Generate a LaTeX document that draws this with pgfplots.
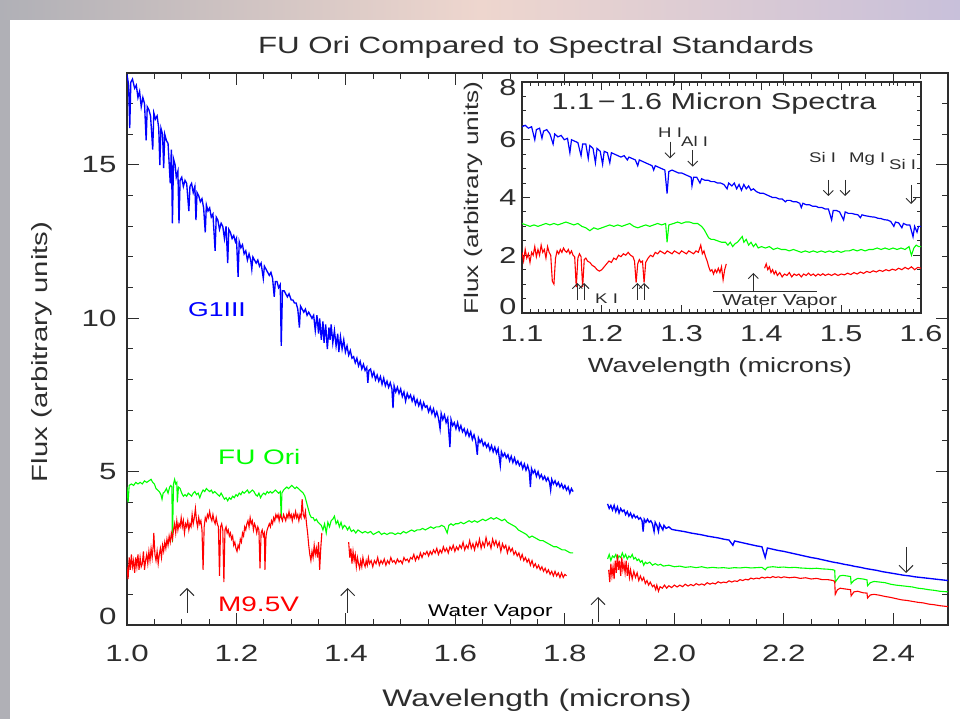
\documentclass[border=0pt]{standalone}
\usepackage{pgfplots}
\pgfplotsset{compat=1.18}
\usepackage{fontspec}
\setmainfont{Liberation Sans}[FakeStretch=1.33]
\usetikzlibrary{arrows.meta}
\definecolor{txt}{RGB}{45,45,45}
\definecolor{bgl}{RGB}{176,176,182}
\definecolor{bgm}{RGB}{212,190,212}
\definecolor{bgp}{RGB}{238,214,206}
\definecolor{bgr}{RGB}{200,192,218}
\definecolor{cb}{RGB}{0,0,255}
\definecolor{cg}{RGB}{0,255,0}
\definecolor{cr}{RGB}{255,0,0}
\tikzset{lab/.style={inner sep=0pt, text=txt}}
\begin{document}
\begin{tikzpicture}[x=1pt,y=1pt]
\useasboundingbox (0,0) rectangle (960,719);
\fill[bgl] (0,0) rectangle (960,719);
\shade[left color=bgl, right color=bgr, middle color=bgp] (0,699) rectangle (960,719);
\fill[white] (10,0) rectangle (960,699);

% ---------------- main axis ----------------
\begin{axis}[
  at={(127pt,94pt)}, anchor=south west, scale only axis,
  width=821pt, height=552pt,
  xmin=1.0, xmax=2.5, ymin=0, ymax=18,
  axis line style={txt, line width=1.2pt},
  tick style={txt, line width=1.0pt},
  major tick length=12pt, minor tick length=6pt,
  tick align=inside,
  xtick={1.0,1.2,1.4,1.6,1.8,2.0,2.2,2.4},
  xticklabels={1.0,1.2,1.4,1.6,1.8,2.0,2.2,2.4},
  minor xtick={1.05,1.1,1.15,1.25,1.3,1.35,1.45,1.5,1.55,1.65,1.7,1.75,1.85,1.9,1.95,2.05,2.1,2.15,2.25,2.3,2.35,2.45},
  ytick={0,5,10,15}, yticklabels={\raisebox{0pt}[0pt][0pt]{0},5,10,15},
  minor ytick={1,2,3,4,6,7,8,9,11,12,13,14,16,17},
  /pgf/number format/assume math mode=true,
  ticklabel style={font=\fontsize{23.5}{24}\selectfont, text=txt},
  xticklabel style={yshift=-17pt},
  yticklabel style={xshift=-7pt},
]
% G1III blue, segment 1
\addplot[cb, line width=1.35pt] coordinates {
(1.000,17.95)(1.003,17.6)(1.005,16.2)(1.007,17.7)(1.010,17.8)(1.014,17.5)(1.017,17.6)(1.020,17.2)(1.023,17.4)(1.026,16.9)
(1.029,17.2)(1.032,17.0)(1.035,15.8)(1.037,16.9)(1.040,16.8)(1.043,16.6)(1.047,15.5)(1.049,16.7)(1.052,16.5)(1.055,16.6)
(1.058,16.2)(1.060,15.0)(1.062,16.2)(1.065,16.0)(1.067,14.9)(1.069,16.0)(1.072,15.8)(1.075,15.7)(1.079,14.4)(1.081,15.5)
(1.083,13.1)(1.085,15.2)(1.088,15.0)(1.090,14.6)(1.093,14.8)(1.095,13.1)(1.097,14.5)(1.100,14.6)(1.103,14.3)(1.106,14.5)
(1.109,14.4)(1.113,13.5)(1.115,14.3)(1.118,14.4)(1.121,14.1)(1.124,14.3)(1.126,13.2)(1.128,14.1)(1.131,14.0)(1.134,13.8)
(1.137,13.9)(1.140,13.6)(1.143,12.8)(1.145,13.7)(1.148,13.5)(1.151,13.6)(1.154,13.3)(1.157,13.4)(1.161,12.2)(1.163,13.3)
(1.166,13.2)(1.169,12.9)(1.172,13.1)(1.175,13.0)(1.178,12.6)(1.181,13.0)(1.184,11.8)(1.186,12.9)(1.189,12.8)(1.192,12.6)
(1.195,12.7)(1.198,12.5)(1.200,12.6)(1.203,11.35)(1.205,12.5)(1.208,12.3)(1.211,12.4)(1.214,12.1)(1.217,12.2)(1.220,11.9)
(1.223,12.1)(1.226,11.9)(1.228,11.6)(1.230,12.0)(1.233,11.9)(1.236,11.8)(1.239,11.9)(1.242,11.7)(1.245,11.8)(1.249,11.3)
(1.251,11.7)(1.254,11.6)(1.257,11.5)(1.260,11.4)(1.263,11.5)(1.266,11.3)(1.269,10.7)(1.271,11.2)(1.274,11.2)(1.277,11.0)
(1.280,11.1)(1.2818,9.1)(1.284,10.9)(1.287,10.9)(1.290,10.8)(1.293,10.7)(1.296,10.8)(1.300,10.6)(1.303,10.6)(1.306,10.5)
(1.309,10.5)(1.312,10.3)(1.315,9.7)(1.317,10.4)(1.320,10.3)(1.323,10.2)(1.326,10.3)(1.329,10.1)(1.332,10.2)(1.335,10.1)
(1.338,10.0)(1.341,10.1)(1.344,9.6)(1.347,10.1)(1.350,9.5)(1.352,10.0)(1.355,9.3)(1.358,9.9)(1.360,9.2)(1.363,9.8)
(1.366,9.0)(1.369,9.7)(1.371,9.3)(1.373,9.8)(1.376,9.2)(1.379,9.6)(1.382,9.1)(1.385,9.5)(1.387,8.9)(1.390,9.4)
(1.393,9.0)(1.396,9.3)(1.399,8.9)(1.402,9.1)(1.405,8.8)(1.408,8.95)(1.411,8.7)
(1.414,8.75)(1.417,8.55)(1.420,8.7)(1.423,8.45)(1.426,8.6)(1.429,8.35)(1.432,8.5)(1.435,8.3)(1.438,8.4)(1.440,7.9)
(1.442,8.3)(1.445,8.35)(1.448,8.1)(1.451,8.25)(1.454,8.0)(1.457,8.15)(1.460,7.95)(1.463,8.1)(1.466,7.85)(1.469,8.05)
(1.472,7.8)(1.475,7.95)(1.478,7.75)(1.481,7.9)(1.484,7.7)(1.486,7.07)(1.488,7.8)(1.491,7.6)(1.494,7.75)(1.497,7.55)
(1.500,7.7)(1.503,7.45)(1.506,7.6)(1.509,7.3)(1.512,7.55)(1.515,7.4)(1.518,7.5)(1.521,7.3)(1.524,7.45)(1.527,7.2)
(1.530,7.35)(1.533,7.15)(1.536,7.3)(1.539,7.05)(1.542,7.25)(1.545,7.1)(1.548,7.15)(1.551,6.95)(1.554,7.1)(1.557,6.9)
(1.560,7.05)(1.563,6.8)(1.566,6.95)(1.569,6.75)(1.572,6.4)(1.574,6.9)(1.577,6.7)(1.580,6.85)(1.583,6.6)(1.586,6.75)
(1.590,5.8)(1.592,6.7)(1.595,6.5)(1.598,6.6)(1.601,6.4)(1.604,6.6)(1.607,6.35)(1.610,6.5)(1.613,6.3)(1.616,6.4)
(1.619,6.2)(1.622,6.35)(1.625,6.15)(1.628,6.3)(1.631,6.05)(1.634,6.2)(1.637,6.0)(1.640,5.55)(1.642,6.1)(1.645,5.95)
(1.648,6.05)(1.651,5.85)(1.654,5.95)(1.657,5.8)(1.660,5.9)(1.663,5.7)(1.666,5.85)(1.669,5.65)(1.672,5.8)(1.675,5.6)
(1.678,5.75)(1.682,5.2)(1.684,5.65)(1.687,5.5)(1.690,5.6)(1.693,5.45)(1.696,5.55)(1.699,5.35)(1.702,5.5)(1.705,5.3)
(1.708,5.45)(1.711,5.25)(1.714,5.35)(1.717,5.2)(1.720,5.3)(1.723,5.1)(1.726,5.25)(1.729,5.05)(1.732,5.2)(1.735,5.0)
(1.737,4.5)(1.739,5.1)(1.742,4.95)(1.745,5.05)(1.748,4.85)(1.751,5.0)(1.754,4.8)(1.757,4.9)(1.760,4.75)(1.763,4.85)
(1.766,4.7)(1.769,4.8)(1.772,4.65)(1.774,4.4)(1.776,4.75)(1.779,4.6)(1.782,4.7)(1.785,4.55)(1.788,4.65)(1.791,4.5)
(1.794,4.6)(1.797,4.45)(1.800,4.55)(1.803,4.4)(1.806,4.5)(1.809,4.3)(1.812,4.45)(1.815,4.35)};
% G1III blue, segment 2
\addplot[cb, line width=1.35pt] coordinates {
(1.878,3.95)(1.881,3.8)(1.884,3.9)(1.887,3.75)(1.890,3.9)(1.893,3.7)(1.896,3.85)(1.899,3.65)(1.902,3.8)(1.905,3.7)
(1.908,3.75)(1.911,3.6)(1.914,3.7)(1.917,3.55)(1.920,3.65)(1.923,3.5)(1.926,3.6)(1.929,3.5)(1.932,3.55)(1.935,3.45)
(1.938,3.5)(1.941,3.4)(1.943,3.05)(1.945,3.45)(1.948,3.35)(1.951,3.45)(1.954,3.35)(1.957,3.4)(1.960,3.3)(1.963,3.05)
(1.965,3.35)(1.968,3.25)(1.971,3.05)(1.973,3.3)(1.976,3.2)(1.979,3.1)(1.981,3.25)(1.985,3.15)(1.990,3.2)(1.995,3.12)
(2.000,3.1)(2.010,3.07)(2.020,3.04)(2.030,3.0)(2.040,2.97)(2.050,2.94)(2.060,2.9)(2.070,2.87)(2.080,2.84)(2.090,2.8)
(2.100,2.77)(2.107,2.6)(2.110,2.74)(2.120,2.7)(2.130,2.66)(2.140,2.62)(2.150,2.58)(2.160,2.55)(2.166,2.2)(2.170,2.51)
(2.180,2.47)(2.190,2.43)(2.200,2.4)(2.210,2.36)(2.220,2.32)(2.230,2.28)(2.240,2.24)(2.250,2.2)(2.260,2.17)(2.270,2.13)
(2.280,2.09)(2.290,2.05)(2.300,2.02)(2.310,1.98)(2.320,1.95)(2.330,1.91)(2.340,1.88)(2.350,1.84)(2.360,1.81)(2.370,1.78)
(2.380,1.74)(2.390,1.71)(2.400,1.68)(2.410,1.65)(2.420,1.62)(2.430,1.6)(2.440,1.57)(2.450,1.55)(2.460,1.53)(2.470,1.51)
(2.480,1.49)(2.490,1.47)(2.500,1.45)};
% FU Ori green, segment 1
\addplot[cg, line width=1.1pt] coordinates {
(1.000,4.5)(1.002,4.0)(1.004,4.55)(1.008,4.6)(1.012,4.55)(1.016,4.65)(1.020,4.6)(1.024,4.65)(1.028,4.6)(1.032,4.7)
(1.036,4.65)(1.040,4.7)(1.044,4.75)(1.047,4.65)(1.050,4.6)(1.053,4.45)(1.056,4.4)(1.059,4.35)(1.062,4.25)(1.064,4.1)
(1.066,4.3)(1.069,4.35)(1.072,4.45)(1.075,4.3)(1.078,4.5)(1.080,4.55)(1.082,4.5)(1.083,2.7)(1.085,4.6)(1.087,4.75)
(1.089,4.6)(1.091,4.65)(1.092,4.0)(1.094,4.5)(1.097,4.45)(1.100,4.3)(1.103,4.2)(1.106,4.25)(1.109,4.2)(1.112,4.3)
(1.115,4.25)(1.118,4.2)(1.121,4.3)(1.124,4.35)(1.127,4.25)(1.130,4.3)(1.133,4.15)(1.136,4.3)(1.139,4.4)(1.142,4.35)
(1.145,4.45)(1.148,4.4)(1.151,4.35)(1.154,4.4)(1.157,4.3)(1.160,4.35)(1.163,4.3)(1.166,4.25)(1.169,4.2)(1.172,4.3)
(1.175,4.2)(1.178,4.1)(1.181,4.15)(1.184,4.05)(1.187,4.15)(1.190,4.1)(1.193,4.2)(1.196,4.15)(1.199,4.25)(1.202,4.2)
(1.205,4.3)(1.208,4.25)(1.211,4.35)(1.214,4.3)(1.217,4.35)(1.220,4.4)(1.223,4.3)(1.226,4.35)(1.229,4.4)(1.232,4.35)
(1.235,4.25)(1.238,4.2)(1.241,4.3)(1.244,4.15)(1.247,4.25)(1.250,4.3)(1.253,4.25)(1.256,4.35)(1.259,4.3)(1.262,4.35)
(1.265,4.3)(1.268,4.35)(1.271,4.4)(1.274,4.35)(1.277,4.3)(1.280,4.35)(1.2818,3.5)(1.283,4.3)(1.286,4.4)(1.289,4.45)
(1.292,4.5)(1.295,4.45)(1.298,4.5)(1.301,4.55)(1.304,4.5)(1.307,4.45)(1.310,4.5)(1.313,4.45)(1.316,4.4)(1.319,4.35)
(1.322,4.3)(1.325,4.2)(1.328,4.0)(1.331,3.8)(1.334,3.6)(1.337,3.5)(1.340,3.5)(1.343,3.4)(1.346,3.45)(1.349,3.35)
(1.352,3.3)(1.355,3.25)(1.358,3.1)(1.361,3.3)(1.364,3.0)(1.367,3.35)(1.370,3.2)(1.373,3.4)(1.376,3.45)(1.379,3.55)
(1.382,3.3)(1.385,3.4)(1.388,3.2)(1.391,3.35)(1.394,3.15)(1.397,3.25)(1.400,3.2)(1.403,3.1)(1.406,3.2)(1.410,3.05)
(1.414,3.1)(1.418,3.0)(1.422,3.1)(1.426,3.05)(1.430,3.0)(1.435,3.05)(1.440,3.0)(1.445,3.05)(1.450,2.95)(1.455,3.0)
(1.460,3.05)(1.465,2.95)(1.470,3.0)(1.475,2.95)(1.480,3.0)(1.485,3.0)(1.490,2.95)(1.495,3.0)(1.500,2.97)(1.505,3.05)
(1.510,3.0)(1.515,3.05)(1.520,3.1)(1.525,3.05)(1.530,3.1)(1.535,3.1)(1.540,3.15)(1.545,3.1)(1.550,3.15)(1.555,3.2)
(1.560,3.15)(1.565,3.2)(1.570,3.2)(1.575,3.25)(1.580,3.2)(1.585,3.0)(1.588,3.25)(1.592,3.3)(1.596,3.25)(1.600,3.3)
(1.605,3.3)(1.610,3.35)(1.615,3.3)(1.620,3.35)(1.625,3.4)(1.630,3.35)(1.635,3.4)(1.640,3.35)(1.645,3.4)(1.650,3.45)
(1.655,3.4)(1.660,3.45)(1.665,3.5)(1.670,3.45)(1.675,3.5)(1.680,3.45)(1.685,3.4)(1.690,3.45)(1.695,3.35)(1.700,3.3)
(1.705,3.25)(1.710,3.2)(1.715,3.1)(1.720,3.05)(1.725,3.0)(1.730,2.95)(1.735,2.85)(1.740,2.9)(1.745,2.85)(1.750,2.8)
(1.755,2.75)(1.760,2.75)(1.765,2.7)(1.770,2.65)(1.775,2.6)(1.780,2.55)(1.785,2.55)(1.790,2.5)(1.795,2.45)(1.800,2.45)
(1.805,2.4)(1.810,2.35)(1.815,2.35)};
% FU Ori green, segment 2
\addplot[cg, line width=1.1pt] coordinates {
(1.878,2.15)(1.881,2.3)(1.884,2.1)(1.887,2.25)(1.890,2.2)(1.893,2.3)(1.896,2.15)(1.899,2.25)(1.902,2.2)(1.905,2.35)
(1.908,2.2)(1.911,2.3)(1.914,2.15)(1.917,2.25)(1.920,2.2)(1.923,2.3)(1.926,2.15)(1.929,2.2)(1.932,2.1)(1.935,2.15)
(1.938,2.05)(1.941,2.1)(1.944,1.95)(1.947,2.05)(1.950,2.0)(1.955,2.05)(1.960,1.95)(1.965,2.0)(1.970,1.95)(1.975,1.98)
(1.980,1.92)(1.990,1.95)(2.000,1.9)(2.010,1.92)(2.020,1.88)(2.030,1.9)(2.040,1.87)(2.050,1.9)(2.060,1.86)(2.070,1.88)
(2.080,1.86)(2.090,1.87)(2.100,1.85)(2.110,1.87)(2.120,1.86)(2.130,1.88)(2.140,1.86)(2.150,1.87)(2.160,1.88)(2.166,1.8)
(2.170,1.88)(2.180,1.9)(2.190,1.88)(2.200,1.89)(2.210,1.87)(2.220,1.88)(2.230,1.86)(2.240,1.85)(2.250,1.84)(2.260,1.85)
(2.270,1.83)(2.280,1.82)(2.290,1.8)(2.293,1.78)(2.294,1.4)(2.298,1.5)(2.302,1.6)(2.308,1.62)(2.315,1.6)(2.322,1.58)
(2.323,1.35)(2.328,1.45)(2.335,1.52)(2.345,1.5)(2.352,1.47)(2.353,1.28)(2.358,1.38)(2.365,1.42)(2.375,1.4)(2.385,1.38)
(2.395,1.33)(2.405,1.3)(2.415,1.28)(2.425,1.26)(2.435,1.24)(2.445,1.2)(2.455,1.18)(2.465,1.15)(2.475,1.13)(2.485,1.1)
(2.500,1.08)};
% M9.5V red, segment 1
\addplot[cr, line width=1.1pt] coordinates {
(1.000,1.9)(1.002,1.5)(1.004,2.2)(1.006,1.8)(1.008,2.3)(1.010,1.9)(1.012,2.1)(1.014,1.7)(1.016,2.2)(1.018,1.9)
(1.020,2.3)(1.022,1.8)(1.024,2.2)(1.026,1.9)(1.028,2.0)(1.030,2.4)(1.032,1.8)(1.034,2.1)(1.036,2.3)(1.038,2.0)
(1.040,2.4)(1.042,2.1)(1.044,2.5)(1.046,2.2)(1.048,2.6)(1.049,3.0)(1.051,2.3)(1.053,2.1)(1.055,2.4)(1.057,2.0)
(1.059,2.3)(1.061,2.5)(1.063,2.2)(1.065,2.6)(1.067,2.4)(1.069,2.7)(1.071,2.5)(1.073,2.8)(1.075,2.6)(1.077,2.9)
(1.079,2.7)(1.081,3.0)(1.083,2.8)(1.085,3.1)(1.087,3.3)(1.089,3.0)(1.091,3.4)(1.093,3.1)(1.095,3.3)(1.097,3.2)
(1.099,3.5)(1.101,3.2)(1.103,3.4)(1.105,3.0)(1.107,3.3)(1.109,3.2)(1.111,3.4)(1.113,3.1)(1.115,3.3)(1.117,3.2)
(1.119,3.6)(1.121,3.3)(1.123,3.5)(1.125,3.8)(1.127,3.4)(1.129,3.2)(1.131,3.5)(1.133,3.3)(1.135,3.4)(1.137,3.1)
(1.139,1.8)(1.141,3.2)(1.143,3.5)(1.145,3.4)(1.147,3.6)(1.149,3.5)(1.151,3.7)(1.153,3.5)(1.155,3.4)(1.157,3.6)
(1.159,3.4)(1.161,3.3)(1.163,3.5)(1.165,3.3)(1.167,3.2)(1.169,1.6)(1.171,3.2)(1.173,3.3)(1.175,3.1)(1.177,1.4)
(1.179,3.1)(1.181,3.2)(1.183,3.0)(1.185,3.1)(1.187,2.9)(1.189,3.0)(1.191,2.8)(1.193,2.9)(1.195,2.6)(1.197,2.7)
(1.199,2.5)(1.201,2.4)(1.203,2.6)(1.205,2.5)(1.207,2.8)(1.209,2.7)(1.211,3.0)(1.213,2.9)(1.215,3.2)(1.217,3.1)
(1.219,3.3)(1.221,3.4)(1.223,3.2)(1.225,3.5)(1.227,3.3)(1.229,3.4)(1.231,3.1)(1.233,3.3)(1.235,3.2)(1.237,3.0)
(1.239,3.2)(1.241,3.1)(1.243,1.85)(1.245,3.0)(1.247,3.1)(1.249,2.9)(1.251,3.0)(1.252,1.8)(1.254,2.9)(1.256,3.1)
(1.258,3.2)(1.260,3.3)(1.262,3.2)(1.264,3.4)(1.266,3.3)(1.268,3.5)(1.270,3.4)(1.272,3.6)(1.274,3.5)(1.276,3.6)
(1.278,3.4)(1.280,3.6)(1.282,3.5)(1.284,3.4)(1.286,3.6)(1.288,3.5)(1.290,3.4)(1.292,3.6)(1.294,3.5)(1.296,3.7)
(1.298,3.5)(1.300,3.6)(1.302,3.4)(1.304,3.6)(1.306,3.5)(1.308,3.7)(1.310,3.5)(1.312,3.6)(1.314,3.4)(1.316,3.6)
(1.318,3.5)(1.320,4.1)(1.322,3.6)(1.324,3.5)(1.326,3.7)(1.328,3.3)(1.330,3.0)(1.332,2.6)(1.334,2.3)(1.336,2.1)
(1.338,2.4)(1.340,2.2)(1.342,2.6)(1.344,2.3)(1.346,2.5)(1.348,2.2)(1.350,2.7)(1.352,1.8)(1.354,2.5)(1.356,3.0)};
% M9.5V red, segment 1b
\addplot[cr, line width=1.1pt] coordinates {
(1.405,2.7)(1.407,2.2)(1.409,2.5)(1.411,2.0)(1.413,2.4)(1.415,2.1)(1.417,2.3)(1.419,1.9)(1.421,2.2)(1.423,2.0)
(1.425,1.85)(1.427,2.1)(1.429,1.9)(1.431,2.2)(1.433,2.0)(1.435,1.9)(1.437,2.1)(1.439,1.95)(1.441,2.2)(1.443,2.0)
(1.446,2.1)(1.449,1.9)(1.452,2.1)(1.455,2.0)(1.458,2.2)(1.461,1.95)(1.464,2.1)(1.467,2.0)(1.470,2.15)(1.473,1.95)
(1.476,2.1)(1.479,2.0)(1.482,2.2)(1.485,2.05)(1.488,2.1)(1.491,2.0)(1.494,2.15)(1.497,2.05)(1.500,2.1)(1.503,2.0)
(1.506,2.2)(1.509,2.1)(1.512,2.15)(1.515,2.05)(1.518,2.2)(1.521,2.15)(1.524,2.3)(1.527,2.1)(1.530,2.25)(1.533,2.15)
(1.536,2.35)(1.539,2.2)(1.542,2.35)(1.545,2.3)(1.548,2.4)(1.551,2.25)(1.554,2.4)(1.557,2.3)(1.560,2.45)(1.563,2.35)
(1.566,2.5)(1.569,2.3)(1.572,2.45)(1.575,2.35)(1.578,2.55)(1.581,2.4)(1.584,2.5)(1.587,2.35)(1.590,2.55)(1.593,2.45)
(1.596,2.6)(1.599,2.4)(1.602,2.55)(1.605,2.45)(1.608,2.6)(1.611,2.5)(1.614,2.7)(1.617,2.45)(1.620,2.6)(1.623,2.5)
(1.626,2.75)(1.629,2.5)(1.632,2.65)(1.635,2.45)(1.638,2.7)(1.641,2.55)(1.644,2.8)(1.647,2.5)(1.650,2.7)(1.653,2.55)
(1.656,2.85)(1.659,2.6)(1.662,2.7)(1.665,2.5)(1.668,2.8)(1.671,2.6)(1.674,2.75)(1.677,2.55)(1.680,2.7)(1.683,2.4)
(1.686,2.65)(1.689,2.5)(1.692,2.6)(1.695,2.35)(1.698,2.55)(1.701,2.4)(1.704,2.5)(1.707,2.3)(1.710,2.4)(1.713,2.25)
(1.716,2.35)(1.719,2.15)(1.722,2.3)(1.725,2.1)(1.728,2.2)(1.731,2.05)(1.734,2.15)(1.737,1.95)(1.740,2.1)(1.743,1.9)
(1.746,2.0)(1.749,1.85)(1.752,1.95)(1.755,1.8)(1.758,1.9)(1.761,1.75)(1.764,1.85)(1.767,1.7)(1.770,1.8)(1.773,1.65)
(1.776,1.75)(1.779,1.6)(1.782,1.75)(1.785,1.6)(1.788,1.7)(1.791,1.55)(1.794,1.7)(1.797,1.55)(1.800,1.65)(1.803,1.6)};
% M9.5V red, segment 2
\addplot[cr, line width=1.1pt] coordinates {
(1.880,1.8)(1.882,1.4)(1.884,2.0)(1.886,1.6)(1.888,1.9)(1.890,1.5)(1.892,2.1)(1.894,1.7)(1.896,2.3)(1.898,1.8)
(1.900,2.1)(1.902,1.6)(1.904,2.2)(1.906,1.8)(1.908,2.0)(1.910,1.7)(1.912,2.1)(1.914,1.6)(1.916,1.9)(1.918,1.55)
(1.920,1.8)(1.923,1.5)(1.926,1.75)(1.929,1.55)(1.932,1.7)(1.935,1.45)(1.938,1.6)(1.941,1.45)(1.944,1.55)(1.947,1.35)
(1.950,1.45)(1.953,1.3)(1.956,1.4)(1.960,1.25)(1.963,1.3)(1.966,1.15)(1.968,1.3)(1.971,1.1)(1.974,1.25)(1.978,1.2)
(1.982,1.3)(1.986,1.2)(1.990,1.28)(1.995,1.22)(2.000,1.3)(2.005,1.24)(2.010,1.3)(2.015,1.25)(2.020,1.33)(2.025,1.27)
(2.030,1.32)(2.035,1.28)(2.040,1.35)(2.045,1.3)(2.050,1.34)(2.055,1.3)(2.060,1.38)(2.065,1.33)(2.070,1.37)(2.075,1.34)
(2.080,1.41)(2.085,1.37)(2.090,1.4)(2.095,1.38)(2.100,1.44)(2.105,1.4)(2.110,1.44)(2.115,1.42)(2.120,1.48)(2.125,1.45)
(2.130,1.49)(2.135,1.47)(2.140,1.53)(2.145,1.5)(2.150,1.53)(2.155,1.51)(2.160,1.56)(2.165,1.53)(2.170,1.56)(2.175,1.54)
(2.180,1.58)(2.185,1.55)(2.190,1.57)(2.195,1.54)(2.200,1.57)(2.210,1.54)(2.220,1.56)(2.230,1.52)(2.240,1.54)(2.250,1.5)
(2.260,1.52)(2.270,1.48)(2.280,1.48)(2.290,1.45)(2.293,1.42)(2.294,1.0)(2.298,1.15)(2.303,1.2)(2.310,1.18)(2.318,1.16)
(2.322,1.15)(2.323,0.95)(2.328,1.08)(2.335,1.1)(2.345,1.05)(2.352,1.04)(2.353,0.88)(2.358,0.98)(2.365,1.0)(2.375,0.97)
(2.385,0.93)(2.395,0.9)(2.405,0.86)(2.415,0.82)(2.425,0.8)(2.435,0.77)(2.445,0.74)(2.455,0.72)(2.465,0.68)(2.475,0.66)
(2.485,0.63)(2.500,0.6)};
\end{axis}

% ---------------- inset axis ----------------
\begin{axis}[
  at={(522pt,406pt)}, anchor=south west, scale only axis,
  width=399pt, height=231pt,
  xmin=1.1, xmax=1.6, ymin=0, ymax=8,
  axis line style={txt, line width=1.1pt},
  tick style={txt, line width=0.9pt},
  major tick length=8pt, minor tick length=4pt,
  tick align=inside,
  xtick={1.1,1.2,1.3,1.4,1.5,1.6},
  xticklabels={1.1,1.2,1.3,1.4,1.5,1.6},
  minor x tick num=9,
  ytick={0,2,4,6,8}, yticklabels={\raisebox{-2pt}[0pt][0pt]{0},2,4,6,\raisebox{-14pt}[0pt][0pt]{8}},
  minor y tick num=3,
  /pgf/number format/assume math mode=true,
  ticklabel style={font=\fontsize{23}{24}\selectfont, text=txt},
  xticklabel style={yshift=-9pt},
  yticklabel style={xshift=-2pt},
]
\addplot[cb, line width=1.2pt] coordinates {
(1.100,6.45)(1.104,6.5)(1.108,6.4)(1.112,6.45)(1.116,6.0)(1.118,6.35)(1.122,6.4)(1.125,6.05)(1.127,6.3)(1.131,6.35)
(1.135,6.2)(1.139,5.85)(1.141,6.2)(1.145,6.1)(1.149,6.15)(1.153,6.0)(1.157,6.05)(1.160,5.55)(1.162,6.0)(1.166,5.95)
(1.170,5.9)(1.174,5.45)(1.176,5.85)(1.180,5.85)(1.183,5.35)(1.185,5.8)(1.189,5.7)(1.192,5.2)(1.194,5.7)(1.198,5.6)
(1.201,5.15)(1.203,5.6)(1.207,5.55)(1.210,5.2)(1.212,5.55)(1.216,5.5)(1.220,5.45)(1.224,5.4)(1.228,5.45)(1.232,5.3)
(1.234,5.4)(1.238,5.35)(1.242,5.3)(1.245,5.1)(1.247,5.3)(1.251,5.25)(1.255,5.2)(1.259,5.15)(1.263,5.1)(1.265,4.95)
(1.267,5.1)(1.271,5.05)(1.275,5.0)(1.279,4.95)(1.2818,4.14)(1.284,4.9)(1.288,4.95)(1.292,4.9)(1.296,4.85)(1.300,4.85)
(1.304,4.8)(1.308,4.75)(1.312,4.7)(1.313,4.4)(1.315,4.7)(1.319,4.7)(1.323,4.5)(1.325,4.65)(1.329,4.6)(1.333,4.6)
(1.337,4.55)(1.341,4.55)(1.345,4.5)(1.349,4.5)(1.353,4.45)(1.357,4.3)(1.359,4.5)(1.363,4.4)(1.366,4.5)(1.369,4.3)
(1.372,4.45)(1.375,4.25)(1.378,4.45)(1.381,4.3)(1.384,4.4)(1.387,4.25)(1.390,4.3)(1.394,4.2)(1.398,4.15)(1.402,4.15)
(1.406,4.1)(1.410,4.05)(1.414,4.0)(1.418,4.0)(1.422,3.95)(1.426,3.95)(1.430,3.85)(1.432,3.9)(1.436,3.9)(1.440,3.85)
(1.444,3.85)(1.448,3.8)(1.450,3.65)(1.452,3.8)(1.456,3.75)(1.460,3.75)(1.464,3.7)(1.468,3.7)(1.472,3.65)(1.476,3.65)
(1.480,3.6)(1.484,3.6)(1.488,3.22)(1.490,3.55)(1.494,3.55)(1.498,3.5)(1.503,3.22)(1.505,3.5)(1.509,3.45)(1.513,3.45)
(1.517,3.42)(1.521,3.4)(1.524,3.3)(1.526,3.4)(1.530,3.37)(1.534,3.35)(1.538,3.33)(1.542,3.32)(1.546,3.28)(1.550,3.27)
(1.554,3.23)(1.558,3.22)(1.562,3.17)(1.566,3.0)(1.568,3.15)(1.572,3.12)(1.576,2.95)(1.578,3.1)(1.582,3.05)(1.586,3.05)
(1.590,2.64)(1.592,3.0)(1.595,2.8)(1.597,3.0)(1.600,3.0)};
\addplot[cg, line width=1.1pt] coordinates {
(1.100,3.1)(1.105,3.05)(1.110,3.0)(1.115,3.05)(1.120,3.0)(1.125,3.05)(1.130,3.1)(1.135,3.05)(1.140,3.1)(1.145,3.05)
(1.150,3.1)(1.155,3.15)(1.160,3.1)(1.165,3.05)(1.170,3.1)(1.175,3.0)(1.180,2.95)(1.185,2.85)(1.190,2.95)(1.195,2.9)
(1.200,2.95)(1.205,3.0)(1.210,3.05)(1.215,3.0)(1.220,3.05)(1.225,3.0)(1.230,3.05)(1.235,3.1)(1.240,3.0)(1.245,2.95)
(1.250,3.0)(1.255,3.05)(1.260,3.0)(1.265,3.05)(1.270,3.1)(1.275,3.05)(1.280,3.1)(1.2818,2.45)(1.284,3.05)(1.290,3.1)
(1.295,3.15)(1.300,3.1)(1.305,3.15)(1.310,3.15)(1.315,3.1)(1.320,3.1)(1.325,3.0)(1.328,2.9)(1.331,2.75)(1.334,2.6)
(1.337,2.55)(1.340,2.55)(1.345,2.5)(1.350,2.45)(1.355,2.45)(1.358,2.35)(1.361,2.45)(1.364,2.3)(1.367,2.4)(1.370,2.45)
(1.373,2.55)(1.376,2.65)(1.378,2.45)(1.381,2.55)(1.384,2.35)(1.387,2.45)(1.390,2.3)(1.393,2.4)(1.396,2.25)(1.400,2.3)
(1.405,2.25)(1.410,2.3)(1.415,2.2)(1.420,2.25)(1.425,2.2)(1.430,2.2)(1.435,2.15)(1.440,2.2)(1.445,2.15)(1.450,2.1)
(1.455,2.15)(1.460,2.1)(1.465,2.15)(1.470,2.1)(1.475,2.15)(1.480,2.1)(1.485,2.15)(1.490,2.1)(1.495,2.15)(1.500,2.1)
(1.505,2.15)(1.510,2.15)(1.515,2.2)(1.520,2.15)(1.525,2.2)(1.530,2.15)(1.535,2.2)(1.540,2.2)(1.545,2.25)(1.550,2.2)
(1.555,2.25)(1.560,2.2)(1.565,2.25)(1.570,2.2)(1.575,2.25)(1.580,2.2)(1.585,2.3)(1.588,2.0)(1.591,2.25)(1.594,2.35)
(1.597,2.3)(1.600,2.3)};
\addplot[cr, line width=1.1pt] coordinates {
(1.100,2.1)(1.102,1.8)(1.104,2.2)(1.106,1.9)(1.108,2.05)(1.110,1.75)(1.112,2.1)(1.114,2.0)(1.116,2.3)(1.118,1.95)
(1.120,2.2)(1.122,2.0)(1.124,2.35)(1.126,2.1)(1.128,2.2)(1.130,1.9)(1.132,2.3)(1.134,2.1)(1.136,2.0)(1.138,1.1)
(1.140,1.0)(1.142,1.9)(1.144,2.15)(1.146,2.05)(1.148,2.2)(1.150,2.1)(1.152,2.25)(1.154,2.15)(1.156,2.1)(1.158,2.2)
(1.160,2.05)(1.162,2.15)(1.164,2.0)(1.166,1.95)(1.168,0.9)(1.170,1.9)(1.172,2.05)(1.174,1.95)(1.176,0.9)(1.178,1.85)
(1.180,1.9)(1.182,1.8)(1.185,1.75)(1.188,1.65)(1.191,1.6)(1.194,1.5)(1.197,1.45)(1.200,1.5)(1.203,1.6)(1.206,1.7)
(1.209,1.8)(1.212,1.75)(1.215,1.9)(1.218,1.85)(1.221,2.0)(1.224,1.95)(1.227,2.05)(1.230,2.0)(1.233,2.1)(1.236,2.0)
(1.239,1.95)(1.241,1.8)(1.243,1.05)(1.245,1.7)(1.247,1.85)(1.249,1.75)(1.251,1.8)(1.253,1.05)(1.255,1.75)(1.258,1.9)
(1.261,2.0)(1.264,1.95)(1.267,2.1)(1.270,2.05)(1.273,2.15)(1.276,2.1)(1.279,2.05)(1.282,2.15)(1.285,2.1)(1.288,2.05)
(1.291,2.15)(1.294,2.1)(1.297,2.05)(1.300,2.15)(1.303,2.1)(1.306,2.05)(1.309,2.15)(1.312,2.1)(1.315,2.05)(1.318,2.15)
(1.321,2.1)(1.324,2.35)(1.326,2.05)(1.328,2.15)(1.330,1.95)(1.332,1.8)(1.334,1.6)(1.336,1.45)(1.338,1.5)(1.340,1.35)
(1.342,1.5)(1.344,1.4)(1.346,1.55)(1.348,1.4)(1.350,1.6)(1.352,1.15)(1.354,1.5)(1.356,1.7)};
\addplot[cr, line width=1.1pt] coordinates {
(1.404,1.55)(1.406,1.7)(1.408,1.5)(1.410,1.6)(1.412,1.4)(1.414,1.5)(1.416,1.35)(1.418,1.45)(1.420,1.3)(1.423,1.4)
(1.426,1.25)(1.429,1.35)(1.432,1.3)(1.435,1.4)(1.438,1.25)(1.441,1.35)(1.444,1.3)(1.447,1.35)(1.450,1.25)(1.453,1.35)
(1.456,1.3)(1.459,1.38)(1.462,1.3)(1.465,1.35)(1.468,1.28)(1.471,1.35)(1.474,1.3)(1.477,1.36)(1.480,1.3)(1.484,1.35)
(1.488,1.3)(1.492,1.36)(1.496,1.3)(1.500,1.35)(1.504,1.32)(1.508,1.38)(1.512,1.33)(1.516,1.4)(1.520,1.35)(1.524,1.42)
(1.528,1.37)(1.532,1.44)(1.536,1.4)(1.540,1.46)(1.544,1.42)(1.548,1.48)(1.552,1.44)(1.556,1.5)(1.560,1.46)(1.564,1.52)
(1.568,1.48)(1.572,1.55)(1.576,1.5)(1.580,1.58)(1.584,1.52)(1.588,1.6)(1.592,1.5)(1.596,1.58)(1.600,1.55)};
\end{axis}

% ---------------- texts ----------------
\node[lab, anchor=base, font=\fontsize{23.5}{24}\selectfont] at (536,665) {FU Ori Compared to Spectral Standards};
\node[lab, anchor=base, font=\fontsize{24}{24}\selectfont] at (537,12) {Wavelength (microns)};
\node[lab, anchor=base, rotate=90, font=\fontsize{22}{24}\selectfont] at (47,367) {Flux (arbitrary units)};
\node[inner sep=0pt, anchor=base west, text=cb, font=\fontsize{20}{24}\selectfont] at (188,402) {G1III};
\node[inner sep=0pt, anchor=base west, text=cg, font=\fontsize{21}{24}\selectfont] at (218,254) {FU Ori};
\node[inner sep=0pt, anchor=base west, text=cr, font=\fontsize{21}{24}\selectfont] at (218,107) {M9.5V};
\node[lab, anchor=base west, text=black, font=\fontsize{17}{20}\selectfont] at (428,102) {Water Vapor};
\begin{scope}[txt, line width=1pt]
\draw[-{Straight Barb[length=7pt,width=14pt]}] (187,106) -- (187,131);
\draw[-{Straight Barb[length=7pt,width=14pt]}] (347.7,106) -- (347.7,131);
\draw[-{Straight Barb[length=7pt,width=14pt]}] (598,97) -- (598,122);
\draw[-{Straight Barb[length=7pt,width=14pt]}] (906,172) -- (906,146);
\end{scope}
% inset texts
\node[lab, anchor=base, font=\fontsize{23}{24}\selectfont] at (714,609) {1.1\,−\,1.6 Micron Spectra};
\node[lab, anchor=base, font=\fontsize{20.5}{24}\selectfont] at (720,346) {Wavelength (microns)};
\node[lab, anchor=base, rotate=90, font=\fontsize{19.7}{24}\selectfont] at (478,521) {Flux (arbitrary units)};
\node[lab, anchor=base west, font=\fontsize{14}{16}\selectfont] at (658,581) {H I};
\node[lab, anchor=base west, font=\fontsize{14}{16}\selectfont] at (681,572) {Al I};
\node[lab, anchor=base west, font=\fontsize{14}{16}\selectfont] at (809,556) {Si I};
\node[lab, anchor=base west, font=\fontsize{14}{16}\selectfont] at (849,556) {Mg I};
\node[lab, anchor=base west, font=\fontsize{14}{16}\selectfont] at (889,549) {Si I};
\node[lab, anchor=base west, font=\fontsize{14}{16}\selectfont] at (595,415) {K I};
\node[lab, anchor=base west, font=\fontsize{15.7}{18}\selectfont] at (722,413) {Water Vapor};
\begin{scope}[txt, line width=0.9pt]
\draw[-{Straight Barb[length=5pt,width=10pt]}] (670,577.3) -- (670,560.7);
\draw[-{Straight Barb[length=5pt,width=10pt]}] (692.7,569) -- (692.7,552.3);
\draw[-{Straight Barb[length=5pt,width=10pt]}] (828.3,539) -- (828.3,523);
\draw[-{Straight Barb[length=5pt,width=10pt]}] (845,539) -- (845,523);
\draw[-{Straight Barb[length=5pt,width=10pt]}] (911,534) -- (911,515);
\draw[-{Straight Barb[length=5pt,width=10pt]}] (577.3,419) -- (577.3,436);
\draw[-{Straight Barb[length=5pt,width=10pt]}] (584,419) -- (584,436);
\draw[-{Straight Barb[length=5pt,width=10pt]}] (637.3,419) -- (637.3,436);
\draw[-{Straight Barb[length=5pt,width=10pt]}] (644,419) -- (644,436);
\draw[-{Straight Barb[length=5pt,width=10pt]}] (753.3,428) -- (753.3,446);
\draw (713,427.3) -- (817,427.3);
\end{scope}
\end{tikzpicture}
\end{document}
